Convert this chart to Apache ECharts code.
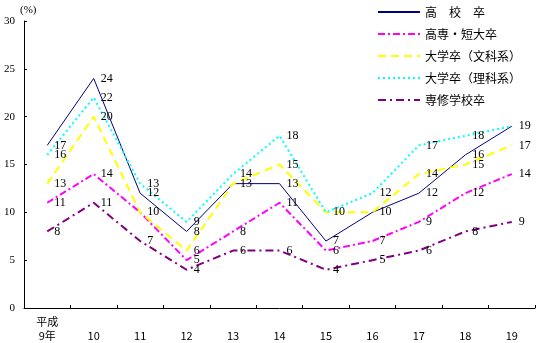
<!DOCTYPE html>
<html><head><meta charset="utf-8">
<script src="https://cdn.jsdelivr.net/npm/echarts@6/dist/echarts.min.js"></script>
<style>html,body{margin:0;padding:0;background:#fff}#c{width:538px;height:343px}</style>
</head><body><div id="c"></div>
<script>
var categories = ['平成\n9年', '\n10', '\n11', '\n12', '\n13', '\n14', '\n15', '\n16', '\n17', '\n18', '\n19'];
var seriesNames = ['高　校　卒', '高専・短大卒', '大学卒（文科系）', '大学卒（理科系）', '専修学校卒'];
var koukou = [17, 24, 12, 8, 13, 13, 7, 10, 12, 16, 19];
var tanki = [11, 14, 10, 5, 8, 11, 6, 7, 9, 12, 14];
var bunka = [13, 20, 10, 6, 13, 15, 10, 10, 14, 15, 17];
var rika = [16, 22, 13, 9, 14, 18, 10, 12, 17, 18, 19];
var senshu = [8, 11, 7, 4, 6, 6, 4, 5, 6, 8, 9];
var yTicks = {min: 0, max: 30, interval: 5};

var numFont = 'Liberation Serif';
var cjk = '"Noto Sans CJK JP"';
var drawn = [];
function mk(name, data, color, type, width) {
  var items = data.map(function (v, i) {
    var dup = drawn.some(function (d) { return d[i] === v; });
    return dup ? {value: v, label: {show: false}} : v;
  });
  drawn.push(data);
  return {
    name: name, type: 'line', data: items, symbol: 'circle', symbolSize: 0.1, showSymbol: true,
    lineStyle: {color: color, type: type, width: width},
    itemStyle: {color: color},
    label: {show: true, position: 'right', distance: 7, color: '#000', fontFamily: numFont, fontSize: 12},
    z: 2
  };
}
var chart = echarts.init(document.getElementById('c'));
chart.setOption({
  animation: false,
  grid: {left: 24, right: 3, top: 21, bottom: 35},
  legend: {
    orient: 'vertical', left: 372, top: 1, itemWidth: 42, itemHeight: 12, itemGap: 10,
    itemStyle: {opacity: 0},
    textStyle: {fontFamily: cjk, fontSize: 12, color: '#000'},
    data: seriesNames
  },
  xAxis: {
    type: 'category', data: categories, boundaryGap: true,
    axisLine: {lineStyle: {color: '#000', width: 1}},
    axisTick: {show: true, inside: true, length: 3, lineStyle: {color: '#000'}},
    axisLabel: {color: '#000', fontFamily: cjk, fontSize: 11, lineHeight: 14, verticalAlign: 'top', margin: 7, interval: 0}
  },
  yAxis: {
    type: 'value', min: yTicks.min, max: yTicks.max, interval: yTicks.interval,
    name: '(%)', nameGap: 4,
    nameTextStyle: {color: '#000', fontFamily: numFont, fontSize: 11, align: 'left', padding: [0, 0, 0, -4]},
    splitLine: {show: false},
    axisLine: {show: true, lineStyle: {color: '#000', width: 1}},
    axisTick: {show: true, inside: true, length: 3, lineStyle: {color: '#000'}},
    axisLabel: {color: '#000', fontFamily: numFont, fontSize: 11, margin: 9}
  },
  series: [
    mk(seriesNames[0], koukou, '#000080', 'solid', 1),
    mk(seriesNames[1], tanki, '#FF00FF', [7, 3, 2, 3], 2),
    mk(seriesNames[2], bunka, '#FFFF00', [8, 5], 2),
    mk(seriesNames[3], rika, '#00FFFF', [2, 3], 2),
    mk(seriesNames[4], senshu, '#800080', [8, 4, 2, 4], 2)
  ]
});
</script></body></html>
